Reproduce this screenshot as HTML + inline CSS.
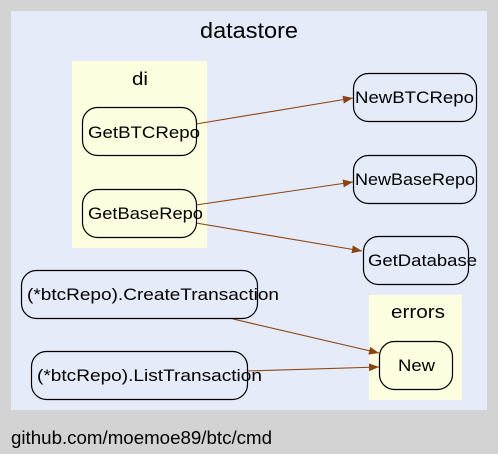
<!DOCTYPE html>
<html><head><style>
body{margin:0;background:#d3d3d3;}
svg{display:block;font-family:"Liberation Sans","DejaVu Sans",sans-serif;}
</style></head><body>
<svg width="498" height="454" viewBox="0 0 498 454" xmlns="http://www.w3.org/2000/svg">
<defs><marker id="a" markerWidth="10" markerHeight="8" refX="10" refY="4" orient="auto" markerUnits="userSpaceOnUse"><path d="M0,0 L10,4 L0,8 z" fill="#8b4513"/></marker></defs>
<rect x="0" y="0" width="498" height="454" fill="#d3d3d3"/>
<rect x="11" y="11" width="476" height="399" fill="#e5ebf9"/>
<text x="200" y="38" font-size="22" textLength="98" lengthAdjust="spacingAndGlyphs">datastore</text>
<rect x="72" y="61" width="135" height="187" fill="#fefee0"/>
<text x="132" y="85" font-size="18" textLength="16" lengthAdjust="spacingAndGlyphs">di</text>
<rect x="369" y="295" width="93" height="105" fill="#fefee0"/>
<text x="391" y="318" font-size="18" textLength="54" lengthAdjust="spacingAndGlyphs">errors</text>
<g fill="none" stroke="#8b4513" stroke-width="1.1" marker-end="url(#a)">
<line x1="196" y1="124" x2="353" y2="98"/>
<line x1="196" y1="205" x2="353" y2="182"/>
<line x1="196" y1="223" x2="362" y2="251"/>
<line x1="233" y1="319" x2="379" y2="353"/>
<line x1="247" y1="371" x2="379" y2="367"/>
</g>
<g fill="none" stroke="#000" stroke-width="1.2">
<rect x="82.5" y="107.5" width="114" height="48" rx="15" fill="#fefee0"/>
<rect x="82.5" y="189.5" width="114" height="48" rx="15" fill="#fefee0"/>
<rect x="353.5" y="73.5" width="123" height="48" rx="15"/>
<rect x="353.5" y="155.5" width="123" height="48" rx="15"/>
<rect x="363.5" y="236.5" width="105" height="48" rx="15"/>
<rect x="21.5" y="270.5" width="236" height="48" rx="15"/>
<rect x="31.5" y="351.5" width="216" height="48" rx="15"/>
<rect x="379.5" y="341.5" width="73" height="48" rx="15" fill="#fefee0"/>
</g>
<g font-size="17" fill="#000">
<text x="88" y="138" textLength="112" lengthAdjust="spacingAndGlyphs">GetBTCRepo</text>
<text x="88" y="219" textLength="115" lengthAdjust="spacingAndGlyphs">GetBaseRepo</text>
<text x="355" y="103" textLength="119" lengthAdjust="spacingAndGlyphs">NewBTCRepo</text>
<text x="355" y="185" textLength="120" lengthAdjust="spacingAndGlyphs">NewBaseRepo</text>
<text x="368" y="266" textLength="109" lengthAdjust="spacingAndGlyphs">GetDatabase</text>
<text x="27" y="300" textLength="252" lengthAdjust="spacingAndGlyphs">(*btcRepo).CreateTransaction</text>
<text x="37" y="381" textLength="225" lengthAdjust="spacingAndGlyphs">(*btcRepo).ListTransaction</text>
<text x="398" y="371" textLength="37" lengthAdjust="spacingAndGlyphs">New</text>
</g>
<text x="11" y="444" font-size="18" textLength="261" lengthAdjust="spacingAndGlyphs">github.com/moemoe89/btc/cmd</text>
</svg>
</body></html>
